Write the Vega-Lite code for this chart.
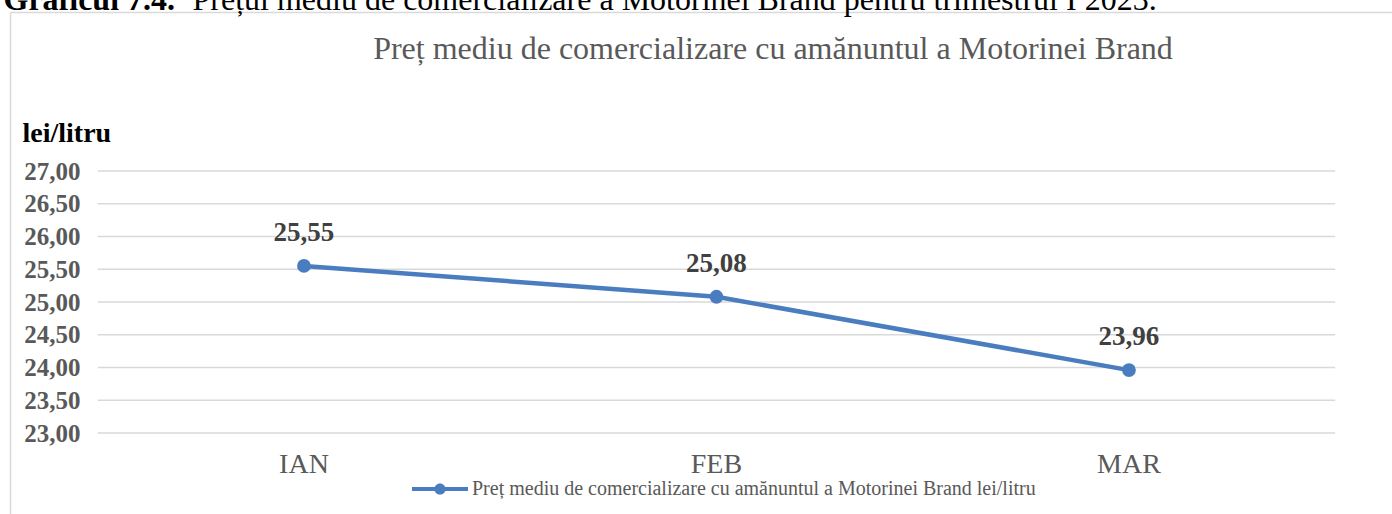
{
  "$schema": "https://vega.github.io/schema/vega-lite/v6.json",
  "width": 1382,
  "height": 502,
  "autosize": {"type": "none"},
  "padding": {"left": 10, "top": 12, "right": 0, "bottom": 0},
  "background": "white",
  "config": {
    "view": {"stroke": null},
    "font": "Liberation Serif",
    "locale": {"number": {"decimal": ",", "thousands": ".", "grouping": [3], "currency": ["", " lei"]}}
  },
  "title": {
    "text": "Preț mediu de comercializare cu amănuntul a Motorinei Brand",
    "font": "Liberation Serif",
    "fontSize": 32,
    "fontWeight": "normal",
    "color": "#595959",
    "anchor": "middle",
    "frame": "group",
    "dx": 72,
    "dy": 56,
    "offset": -52,
    "baseline": "alphabetic"
  },
  "resolve": {"axis": {"x": "independent"}},
  "datasets": {
    "grid": [{"v": 23}, {"v": 23.5}, {"v": 24}, {"v": 24.5}, {"v": 25}, {"v": 25.5}, {"v": 26}, {"v": 26.5}, {"v": 27}],
    "main": [
      {"month": "IAN", "price": 25.55},
      {"month": "FEB", "price": 25.08},
      {"month": "MAR", "price": 23.96}
    ]
  },
  "layer": [
    {
      "data": {"name": "grid"},
      "mark": {"type": "rule", "color": "#d9d9d9", "strokeWidth": 1.5},
      "encoding": {
        "x": {"datum": "IAN", "bandPosition": 0, "type": "nominal",
          "scale": {"type": "band", "domain": ["IAN", "FEB", "MAR"], "paddingInner": 0, "paddingOuter": 0.17515, "align": 0.607},
          "axis": {"orient": "top", "labels": false, "ticks": false, "grid": false, "domain": true, "domainColor": "#d9d9d9", "domainWidth": 1.5,
            "title": "Graficul 7.4.",
            "titleAnchor": "start", "titleAlign": "left", "titleX": -7, "titleY": -3, "titleBaseline": "alphabetic",
            "titleFont": "Liberation Serif", "titleFontSize": 32, "titleFontWeight": "bold", "titleColor": "#000000"}},
        "x2": {"datum": "MAR", "bandPosition": 1},
        "y": {"field": "v", "type": "quantitative",
          "scale": {"domain": [21.7634, 29.4275], "nice": false, "zero": false},
          "axis": {"orient": "left", "values": [23, 23.5, 24, 24.5, 25, 25.5, 26, 26.5, 27], "format": ".2f",
            "labelAlign": "right", "labelPadding": -70, "ticks": false, "tickSize": 0, "grid": false,
            "domain": true, "domainColor": "#d9d9d9", "domainWidth": 1.5,
            "labelFont": "Liberation Serif", "labelFontSize": 25, "labelFontWeight": "bold", "labelColor": "#595959",
            "labelBaseline": "middle", "labelOverlap": false, "labelFlush": false,
            "title": "lei/litru", "titleAngle": 0, "titleX": 12, "titleY": 121, "titleAlign": "left", "titleBaseline": "middle",
            "titleFont": "Liberation Serif", "titleFontSize": 28, "titleFontWeight": "bold", "titleColor": "#000000"}}
      }
    },
    {
      "data": {"name": "main"},
      "mark": {"type": "line", "color": "#4a7dbf", "strokeWidth": 4.5},
      "encoding": {
        "x": {"field": "month", "type": "nominal", "sort": ["IAN", "FEB", "MAR"], "axis": null},
        "y": {"field": "price", "type": "quantitative"}
      }
    },
    {
      "data": {"name": "main"},
      "mark": {"type": "point", "filled": true, "size": 190, "opacity": 1},
      "encoding": {
        "x": {"field": "month", "type": "nominal", "sort": ["IAN", "FEB", "MAR"], "axis": null},
        "y": {"field": "price", "type": "quantitative"},
        "color": {"datum": "Preț mediu de comercializare cu amănuntul a Motorinei Brand lei/litru",
          "scale": {"range": ["#4a7dbf"]},
          "legend": {"orient": "none", "legendX": 402, "legendY": 449, "title": null,
            "symbolType": "M-1,-0.075L1,-0.075L1,0.075L-1,0.075Z M0.2,0A0.2,0.2 0 1,1 -0.2,0A0.2,0.2 0 1,1 0.2,0Z",
            "symbolSize": 3136, "symbolStrokeWidth": 0, "symbolOpacity": 1,
            "labelFont": "Liberation Serif", "labelFontSize": 20, "labelColor": "#595959", "labelOffset": 4, "labelLimit": 0}}
      }
    },
    {
      "data": {"name": "main"},
      "mark": {"type": "text", "font": "Liberation Serif", "fontWeight": "bold", "fontSize": 27, "color": "#404040", "baseline": "alphabetic", "dy": -25},
      "encoding": {
        "x": {"field": "month", "type": "nominal", "sort": ["IAN", "FEB", "MAR"], "axis": null},
        "y": {"field": "price", "type": "quantitative"},
        "text": {"field": "price", "type": "quantitative", "format": ".2f"}
      }
    },
    {
      "data": {"name": "main"},
      "mark": {"type": "text", "font": "Liberation Serif", "fontSize": 28, "color": "#595959", "baseline": "middle"},
      "encoding": {
        "x": {"field": "month", "type": "nominal", "sort": ["IAN", "FEB", "MAR"],
          "axis": {"orient": "bottom", "labels": false, "ticks": false, "grid": false, "domain": false,
            "title": "Prețul mediu de comercializare a Motorinei Brand pentru trimestrul I 2023.",
            "titleAnchor": "start", "titleAlign": "left", "titleX": 182, "titleY": -505, "titleBaseline": "alphabetic",
            "titleFont": "Liberation Serif", "titleFontSize": 32, "titleFontWeight": "normal", "titleColor": "#000000"}},
        "y": {"datum": 22.51, "type": "quantitative"},
        "text": {"field": "month", "type": "nominal"}
      }
    }
  ]
}
